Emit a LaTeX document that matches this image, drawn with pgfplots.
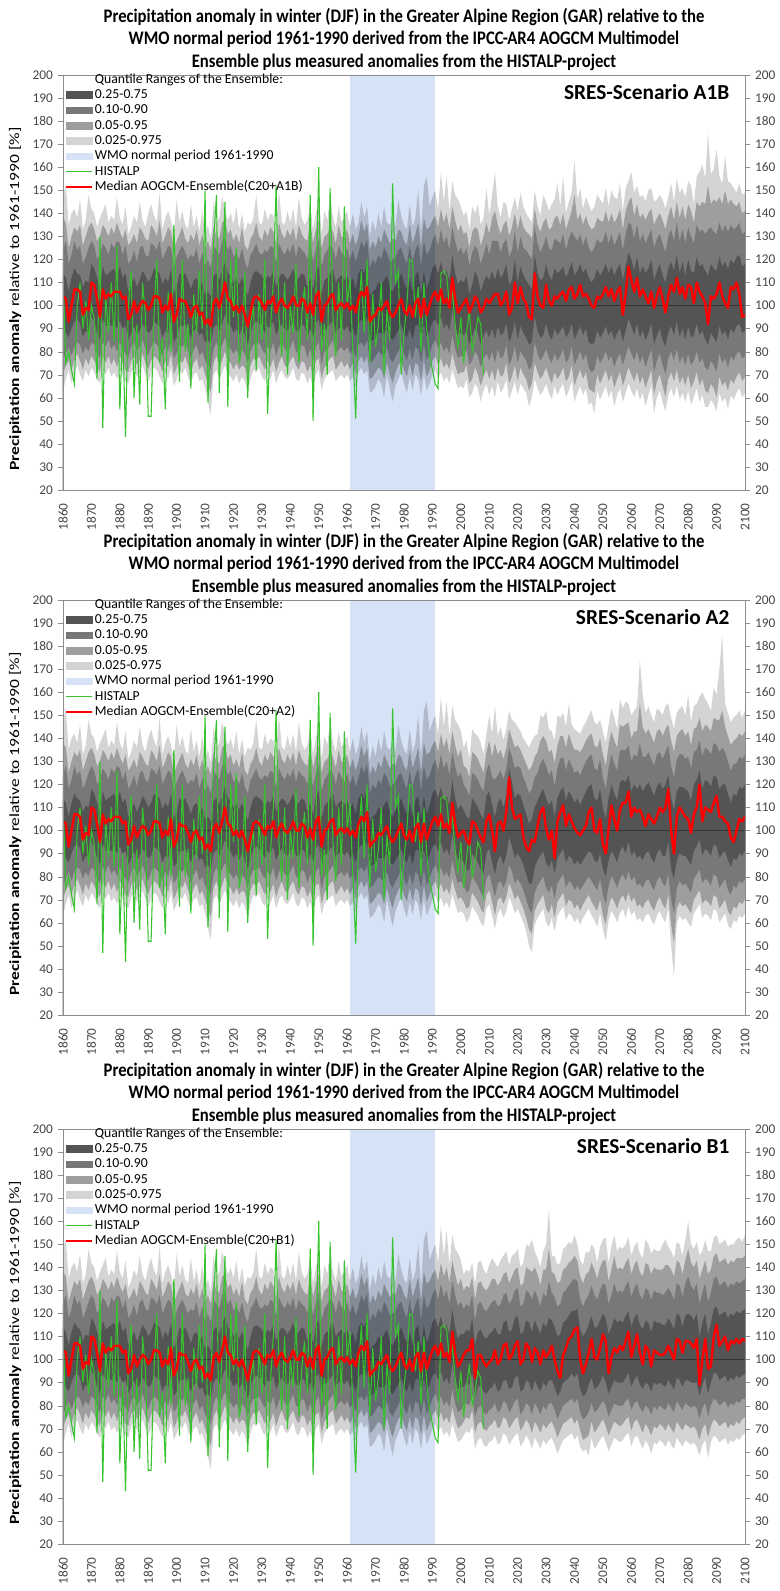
\documentclass[border=0pt]{standalone}
\usepackage{graphicx}
\usepackage{pgfplots}
\usepackage{pgfplotstable}
\pgfplotsset{compat=1.18}
\usepackage{fontspec}
\setmainfont{Carlito}
\definecolor{qA}{RGB}{84,84,84}
\definecolor{qB}{RGB}{120,120,120}
\definecolor{qC}{RGB}{158,158,158}
\definecolor{qD}{RGB}{212,212,212}
\definecolor{wmo}{RGB}{214,226,245}
\definecolor{hgreen}{RGB}{55,195,45}
\definecolor{axgray}{RGB}{140,140,140}
\definecolor{txt}{RGB}{70,70,70}

\pgfplotstableread{
y a b c d e f g h m
1860 63 70 76 90 114 124 138 148 104
1861 68 74 79 88 112 128 136 152 103
1862 72 76 82 86 106 118 125 135 93
1863 66 72 78 90 112 122 130 140 100
1864 70 76 82 93 116 128 134 142 107
1865 74 79 84 94 114 124 132 138 107
1866 70 76 83 92 113 126 135 146 106
1867 67 72 79 86 108 118 126 133 96
1868 72 77 82 89 111 121 130 137 99
1869 69 74 80 88 110 125 134 148 98
1870 73 78 84 95 118 128 136 142 110
1871 71 76 83 93 116 126 133 140 109
1872 68 73 79 88 112 120 128 134 103
1873 66 71 77 85 108 122 130 138 95
1874 72 78 84 94 117 127 135 141 107
1875 70 75 82 91 113 125 133 144 103
1876 73 78 85 92 114 122 130 136 105
1877 69 74 81 91 115 127 134 139 104
1878 71 77 83 92 116 125 131 137 106
1879 68 73 80 90 113 128 136 147 106
1880 72 78 84 93 117 127 132 138 106
1881 70 75 81 90 112 122 129 135 103
1882 67 72 79 91 114 126 133 143 104
1883 66 71 77 85 106 118 126 131 94
1884 71 76 82 88 109 120 128 134 96
1885 73 78 84 91 112 124 131 139 102
1886 69 74 80 87 108 119 127 136 97
1887 71 76 82 89 111 125 134 145 100
1888 74 79 85 92 115 126 132 137 102
1889 70 75 81 90 113 122 129 134 101
1890 67 72 78 88 110 121 128 140 98
1891 70 76 82 89 112 127 135 144 100
1892 73 78 84 93 116 126 133 139 104
1893 72 77 83 92 115 124 130 136 104
1894 69 75 81 91 114 128 137 149 103
1895 66 71 78 86 109 120 127 133 97
1896 71 76 82 89 112 123 130 138 100
1897 68 73 80 88 110 126 134 141 98
1898 73 79 85 93 116 125 132 137 105
1899 65 70 77 84 105 117 124 131 93
1900 68 73 79 86 108 121 128 146 96
1901 72 77 83 91 114 124 131 136 103
1902 70 75 82 91 113 126 134 141 102
1903 73 78 84 92 114 123 129 135 102
1904 69 74 80 89 111 120 127 133 99
1905 66 71 77 86 107 122 131 144 95
1906 70 75 81 89 111 121 128 134 99
1907 71 77 83 90 112 125 133 139 100
1908 67 72 78 87 108 118 126 132 96
1909 68 74 80 88 110 123 131 141 97
1910 64 70 76 84 105 117 125 131 92
1911 58 66 74 85 106 120 128 135 94
1912 52 62 72 83 104 116 124 129 91
1913 70 75 81 90 113 126 134 145 101
1914 72 78 84 92 114 124 130 136 103
1915 68 73 80 89 111 122 129 138 99
1916 71 76 83 92 115 128 136 147 104
1917 74 80 86 96 119 129 137 142 110
1918 70 76 82 92 114 124 131 137 103
1919 69 75 81 91 113 126 133 140 102
1920 67 72 79 88 110 121 128 135 98
1921 70 75 81 90 112 123 131 143 100
1922 66 72 78 87 109 120 127 133 97
1923 69 74 81 90 112 125 134 140 100
1924 67 73 79 87 108 119 126 132 96
1925 62 68 75 83 104 116 124 136 91
1926 68 74 80 88 110 122 129 135 97
1927 72 77 83 92 114 124 131 138 103
1928 71 76 83 93 115 127 136 148 104
1929 73 78 84 92 114 123 130 136 103
1930 69 75 81 91 113 122 128 135 101
1931 67 72 79 88 110 124 133 142 98
1932 71 76 82 91 113 123 130 137 102
1933 68 73 80 90 112 126 134 140 101
1934 72 77 84 93 115 125 132 139 104
1935 66 71 78 87 108 119 127 133 97
1936 70 75 82 90 112 127 136 150 101
1937 72 78 84 92 114 124 131 136 103
1938 69 74 81 90 113 122 129 135 100
1939 68 73 80 89 111 125 133 141 99
1940 70 76 82 91 113 123 130 136 101
1941 73 78 85 93 116 127 134 142 104
1942 68 74 80 89 111 121 128 134 100
1943 67 72 79 89 112 126 135 147 100
1944 71 76 83 92 114 124 131 138 103
1945 70 75 82 91 113 123 129 135 102
1946 66 71 77 86 108 120 128 137 97
1947 69 74 81 90 112 127 136 144 101
1948 64 69 76 86 107 119 127 133 96
1949 70 76 82 92 115 125 133 140 104
1950 72 77 84 94 117 129 137 146 106
1951 63 68 74 84 105 117 125 131 93
1952 68 73 80 89 111 122 130 141 100
1953 70 75 81 90 112 124 131 137 101
1954 71 77 83 92 114 126 134 148 104
1955 72 78 85 93 116 125 132 138 105
1956 67 72 79 88 110 120 127 134 98
1957 69 74 81 90 112 126 135 143 100
1958 70 76 82 91 113 123 130 136 101
1959 68 73 80 89 111 121 129 139 99
1960 70 75 82 91 113 125 133 141 101
1961 67 72 79 88 109 120 127 134 98
1962 69 75 81 90 112 124 131 140 100
1963 64 70 77 86 107 119 126 133 97
1964 71 76 83 92 114 123 130 136 103
1965 73 78 84 94 116 128 137 145 106
1966 70 75 82 92 114 125 132 138 104
1967 72 78 85 95 118 129 136 143 108
1968 62 68 75 84 104 116 124 130 93
1969 63 69 76 85 106 120 128 137 95
1970 65 71 78 86 107 118 125 132 96
1971 68 73 80 88 110 122 130 140 99
1972 66 72 79 88 109 120 127 134 98
1973 60 68 77 88 111 125 133 143 100
1974 70 75 82 90 113 123 130 136 102
1975 64 70 77 86 108 119 127 135 97
1976 58 66 75 85 106 120 129 138 95
1977 65 71 78 87 109 121 128 134 97
1978 68 74 80 89 111 124 133 146 100
1979 71 76 83 92 114 125 132 139 103
1980 66 72 79 88 110 121 128 135 98
1981 62 69 76 86 107 118 126 133 96
1982 69 75 81 90 112 126 135 144 100
1983 63 69 76 85 106 119 127 134 95
1984 70 75 82 91 113 124 131 138 101
1985 68 74 81 92 115 127 136 150 103
1986 61 67 75 85 105 117 125 132 95
1987 70 76 83 92 115 128 138 152 103
1988 63 69 76 86 107 122 133 156 96
1989 66 72 79 89 111 124 134 143 100
1990 70 76 83 93 116 128 137 147 104
1991 72 78 85 94 118 131 139 150 106
1992 68 74 81 91 114 126 134 142 102
1993 71 77 84 95 119 133 142 158 107
1994 67 73 80 90 113 127 136 145 101
1995 69 75 82 92 115 130 140 156 103
1996 66 72 79 89 111 124 133 141 99
1997 72 79 87 98 122 134 143 154 112
1998 68 74 81 91 114 128 137 148 103
1999 64 70 77 87 109 123 132 146 97
2000 65 71 78 88 111 125 135 143 99
}\hist

\pgfplotstableread{
y a b c d e f g h m
1999 64 70 77 87 109 123 132 146 97
2000 65 71 78 88 111 125 135 143 99
2001 64 71 78 87 110 122 131 139 101
2002 68 74 81 89 113 125 132 141 103
2003 60 66 74 83 105 117 125 133 97
2004 62 68 76 86 109 123 132 143 100
2005 66 73 80 90 115 126 134 140 104
2006 64 70 78 88 112 124 133 144 102
2007 58 65 73 83 106 118 126 135 97
2008 63 69 77 87 110 122 130 138 99
2009 66 72 79 89 113 127 136 151 103
2010 61 68 76 86 111 122 131 139 101
2011 65 72 80 90 115 128 138 148 103
2012 60 67 75 85 111 128 141 158 105
2013 67 73 81 91 116 128 135 143 105
2014 62 69 77 87 112 123 131 138 100
2015 64 70 78 88 114 127 135 145 102
2016 68 75 83 92 118 129 137 144 106
2017 59 66 74 84 109 121 130 137 96
2018 63 69 77 87 111 124 134 142 99
2019 67 74 82 93 120 132 140 147 110
2020 61 67 75 85 110 123 133 141 101
2021 66 73 80 91 117 130 139 149 108
2022 64 70 78 88 113 125 134 143 103
2023 62 68 76 86 111 124 132 140 101
2024 56 63 72 83 109 122 131 138 95
2025 60 66 74 84 107 120 129 136 94
2026 68 75 84 95 122 134 142 150 114
2027 64 71 79 89 114 127 135 143 104
2028 61 68 76 86 111 123 132 139 100
2029 63 70 78 87 112 126 136 148 99
2030 66 73 81 92 118 130 138 145 109
2031 62 69 77 87 113 125 133 141 102
2032 59 66 75 85 111 124 134 144 100
2033 65 71 79 90 116 129 138 146 104
2034 61 68 76 87 114 128 139 153 103
2035 64 70 78 89 115 127 135 143 105
2036 66 73 81 91 117 131 140 156 106
2037 60 67 75 86 112 124 133 140 102
2038 63 69 77 88 115 129 137 145 107
2039 67 74 82 92 119 132 141 149 108
2040 58 65 74 85 113 130 148 163 103
2041 62 69 77 88 115 128 137 146 105
2042 65 72 80 91 118 131 140 151 109
2043 61 68 76 87 114 126 135 142 104
2044 64 71 79 90 116 130 139 147 105
2045 57 64 73 84 112 125 135 144 103
2046 58 63 71 83 110 123 133 141 100
2047 53 62 72 84 112 125 134 143 99
2048 63 70 78 89 116 129 138 148 104
2049 59 66 75 86 113 127 137 146 103
2050 62 69 77 88 115 128 136 144 105
2051 65 72 80 91 118 132 141 151 108
2052 60 67 76 87 114 127 136 143 104
2053 63 70 78 89 117 131 140 150 107
2054 56 64 73 85 113 126 136 147 102
2055 61 68 77 88 116 129 138 146 106
2056 64 71 79 90 118 132 142 153 108
2057 58 65 74 84 111 124 133 141 96
2058 62 69 78 89 117 131 141 151 105
2059 66 73 82 94 123 136 145 154 117
2060 63 70 79 91 120 135 147 158 111
2061 60 67 76 87 115 129 139 149 106
2062 64 71 80 92 121 135 144 152 112
2063 59 66 75 86 114 128 138 147 104
2064 62 69 78 89 117 131 140 148 107
2065 56 64 73 85 114 127 137 145 104
2066 61 68 77 88 116 130 140 150 101
2067 65 72 81 92 120 133 142 151 106
2068 53 61 71 83 111 125 135 145 99
2069 60 67 76 87 115 129 138 146 104
2070 63 70 79 90 118 131 140 148 108
2071 58 65 74 85 113 127 137 146 103
2072 54 60 70 82 110 123 133 142 97
2073 61 68 77 88 116 130 139 147 104
2074 64 71 80 91 119 133 143 153 109
2075 60 67 76 87 115 128 137 145 106
2076 65 72 81 93 122 136 145 155 112
2077 59 66 75 86 114 128 138 149 105
2078 62 69 78 90 119 133 143 151 108
2079 58 65 74 85 113 127 137 147 103
2080 63 70 79 91 120 134 144 154 109
2081 57 64 74 86 115 130 141 152 108
2082 60 67 76 87 114 127 136 144 101
2083 64 71 80 92 121 135 145 156 110
2084 58 65 75 87 117 132 143 158 106
2085 61 68 77 89 118 133 145 161 104
2086 56 63 73 85 115 131 144 155 101
2087 56 62 72 83 113 133 152 175 92
2088 59 66 76 88 118 134 144 157 104
2089 57 64 74 86 116 132 146 159 103
2090 54 60 71 84 115 131 145 168 105
2091 62 69 79 91 121 136 147 156 110
2092 58 65 75 87 117 132 144 153 104
2093 60 67 77 89 119 135 150 165 101
2094 55 63 73 85 116 132 144 154 99
2095 61 68 78 90 120 135 146 153 108
2096 59 66 76 88 118 133 144 151 107
2097 62 69 79 91 121 134 143 149 110
2098 64 71 80 92 122 136 145 153 105
2099 60 67 77 88 117 131 140 148 95
2100 62 69 78 89 118 132 141 149 96
}\scenA

\pgfplotstableread{
y a b c d e f g h m
1999 64 70 77 87 109 123 132 146 97
2000 65 71 78 88 111 125 135 143 99
2001 64 69 76 86 109 120 128 136 100
2002 60 66 73 83 106 118 127 139 96
2003 62 67 74 83 105 115 123 131 94
2004 67 73 80 90 114 125 134 144 104
2005 65 71 78 88 112 124 133 142 103
2006 63 69 76 86 110 122 131 141 100
2007 60 66 73 83 107 119 128 138 97
2008 58 64 71 81 105 117 125 133 95
2009 66 72 79 90 115 126 134 142 104
2010 68 74 81 92 117 129 139 150 107
2011 63 69 76 86 111 123 132 142 100
2012 57 63 71 81 106 122 138 154 91
2013 64 70 77 87 112 124 133 141 103
2014 66 71 78 89 114 126 135 145 104
2015 62 68 75 85 110 122 131 139 100
2016 65 71 78 89 115 127 136 144 108
2017 71 77 85 97 127 136 144 152 123
2018 68 74 82 93 121 132 140 148 110
2019 64 70 77 88 114 127 136 147 105
2020 66 72 79 90 116 128 137 145 106
2021 63 69 77 88 115 127 135 143 107
2022 60 66 74 85 111 123 132 140 97
2023 56 62 70 81 107 120 129 138 93
2024 50 57 66 77 103 116 126 136 91
2025 47 55 64 77 105 118 128 139 96
2026 59 65 73 84 110 123 132 141 95
2027 62 68 76 87 113 125 134 142 102
2028 64 70 78 89 116 129 139 150 108
2029 66 72 80 91 118 131 141 149 110
2030 60 66 75 86 114 128 139 152 101
2031 58 64 73 84 111 124 134 144 96
2032 62 68 76 87 113 126 135 143 100
2033 56 62 70 81 106 119 129 139 88
2034 63 69 77 88 114 127 137 150 104
2035 65 71 79 90 117 131 141 149 108
2036 67 73 81 92 119 132 141 151 111
2037 61 67 75 86 113 126 136 145 102
2038 64 70 78 89 117 131 142 155 107
2039 63 69 77 88 115 128 138 146 104
2040 60 66 74 85 112 125 135 144 101
2041 62 68 76 87 114 126 135 143 99
2042 59 65 74 85 111 124 134 142 98
2043 62 68 76 87 114 127 136 145 100
2044 64 70 78 89 117 130 139 147 102
2045 66 72 80 91 119 132 141 150 108
2046 63 69 78 90 120 133 142 152 110
2047 61 67 76 87 114 127 137 147 100
2048 58 65 74 86 113 126 136 146 99
2049 64 70 79 90 118 131 140 148 105
2050 57 63 72 83 110 123 133 143 94
2051 52 59 68 80 105 118 128 138 90
2052 61 67 76 87 114 127 137 146 101
2053 65 71 80 91 120 133 143 153 111
2054 63 69 78 89 116 129 139 149 105
2055 60 66 75 86 113 126 136 144 100
2056 64 70 79 91 121 135 146 157 109
2057 66 72 81 93 122 135 145 153 112
2058 62 69 78 90 121 135 146 156 112
2059 67 73 82 95 124 137 147 155 117
2060 63 69 78 89 117 130 140 150 106
2061 65 71 80 91 120 133 143 152 110
2062 61 67 76 88 118 132 143 154 108
2063 62 68 77 89 120 138 155 174 109
2064 60 66 75 87 117 132 145 159 106
2065 63 69 78 90 119 132 142 151 102
2066 64 70 79 91 121 134 144 154 107
2067 61 67 76 88 118 131 141 150 105
2068 59 65 74 86 115 128 138 147 103
2069 63 69 78 90 119 133 143 153 106
2070 65 71 80 92 121 134 144 152 110
2071 62 68 77 89 118 131 141 150 108
2072 60 66 76 89 120 134 144 154 110
2073 66 72 81 95 124 137 146 155 118
2074 50 59 70 83 114 128 139 149 100
2075 36 51 64 79 109 123 134 144 90
2076 60 66 75 87 117 131 141 151 106
2077 63 69 78 90 119 133 143 153 110
2078 61 67 76 89 119 133 144 154 108
2079 62 68 77 89 118 131 141 150 106
2080 60 66 75 87 117 132 143 159 105
2081 58 64 73 85 113 127 137 147 99
2082 64 70 79 91 120 134 144 154 107
2083 66 72 81 93 122 135 145 155 110
2084 68 74 83 96 126 139 149 158 120
2085 62 68 77 89 118 132 143 160 104
2086 64 70 79 92 122 136 146 157 110
2087 63 69 78 91 121 135 145 155 109
2088 61 67 76 89 119 133 143 152 108
2089 66 72 81 94 124 138 149 162 112
2090 65 71 80 93 123 137 148 159 115
2091 60 66 75 88 118 134 148 170 106
2092 62 68 77 90 120 136 152 185 106
2093 64 70 79 91 120 134 145 155 104
2094 59 65 74 87 116 130 141 151 103
2095 57 63 72 84 112 126 137 147 97
2096 61 67 76 88 116 129 139 149 95
2097 60 66 75 87 115 129 140 150 100
2098 63 69 78 90 119 132 142 152 105
2099 62 68 77 89 118 131 141 149 104
2100 64 70 79 91 120 133 143 152 106
}\scenB

\pgfplotstableread{
y a b c d e f g h m
1999 64 70 77 87 109 123 132 146 97
2000 65 71 78 88 111 125 135 143 99
2001 67 73 80 88 111 122 130 137 102
2002 69 75 81 90 113 124 132 139 104
2003 68 74 80 89 112 123 131 138 104
2004 71 78 85 94 118 128 136 142 109
2005 61 68 75 84 106 117 126 133 92
2006 65 72 79 88 112 124 133 142 102
2007 66 73 80 89 113 125 134 143 102
2008 63 70 77 86 110 122 131 139 99
2009 62 69 76 85 109 121 130 137 97
2010 64 71 78 87 111 123 132 141 99
2011 65 72 79 88 112 125 135 144 100
2012 67 74 81 90 114 126 135 142 104
2013 63 70 77 86 111 123 132 140 98
2014 64 71 78 87 111 124 134 143 100
2015 68 75 82 91 116 128 137 145 106
2016 67 74 81 91 117 129 138 147 107
2017 63 70 77 87 112 124 133 141 100
2018 65 72 79 88 113 126 136 145 102
2019 67 74 82 92 118 130 139 146 106
2020 68 75 83 93 119 131 140 148 108
2021 62 69 76 86 111 123 132 140 98
2022 64 71 78 87 112 124 133 142 100
2023 67 74 81 91 117 130 140 150 107
2024 65 72 80 90 116 129 139 149 105
2025 61 68 76 86 112 126 138 152 99
2026 66 73 81 91 117 130 140 147 105
2027 64 71 79 88 114 127 137 144 103
2028 61 68 76 86 111 123 132 140 98
2029 65 72 80 90 116 129 139 147 104
2030 63 70 78 88 114 127 139 150 101
2031 65 72 81 91 118 134 148 165 103
2032 66 73 81 91 117 129 138 145 106
2033 63 70 78 88 114 127 137 145 100
2034 59 66 74 84 110 123 133 141 95
2035 62 69 77 86 111 124 134 142 92
2036 65 72 80 90 116 129 139 148 102
2037 66 73 81 91 117 130 140 149 105
2038 67 74 82 92 119 132 142 151 109
2039 68 75 83 94 121 134 143 150 110
2040 65 72 81 92 121 135 145 154 113
2041 67 74 83 94 122 134 143 150 114
2042 62 69 77 87 113 126 136 143 100
2043 60 65 74 84 110 123 133 141 94
2044 61 66 75 85 112 126 137 147 98
2045 58 67 77 89 115 128 138 146 103
2046 66 73 81 92 119 132 142 150 109
2047 61 68 77 87 114 128 139 148 101
2048 63 70 78 88 114 126 135 142 100
2049 65 72 80 90 117 130 140 149 105
2050 67 74 82 93 120 133 143 152 111
2051 64 71 80 90 118 132 143 153 108
2052 60 67 75 85 111 124 134 142 94
2053 63 70 78 88 114 128 139 149 101
2054 66 73 81 91 118 133 145 154 105
2055 65 72 80 90 116 129 139 147 103
2056 64 71 80 90 117 130 140 149 106
2057 65 72 80 90 116 129 139 148 104
2058 67 74 82 92 119 132 142 150 108
2059 68 75 83 94 121 134 144 153 112
2060 62 69 78 88 114 127 137 145 101
2061 66 73 81 91 118 131 141 149 106
2062 67 74 82 93 120 133 143 151 111
2063 64 71 79 89 115 128 138 146 103
2064 61 68 77 87 113 126 136 144 98
2065 65 72 80 90 117 131 142 152 106
2066 63 70 79 89 116 130 141 150 104
2067 59 67 76 86 112 126 137 146 97
2068 64 71 80 90 117 130 140 148 104
2069 63 70 78 89 116 129 139 147 103
2070 65 72 80 90 116 129 139 147 102
2071 64 71 79 89 115 128 139 150 102
2072 62 69 78 88 115 129 141 152 103
2073 65 72 81 91 118 131 141 149 106
2074 63 70 79 89 116 129 139 147 103
2075 61 68 77 87 113 126 136 144 100
2076 66 73 82 92 120 133 143 151 109
2077 64 71 80 91 119 132 142 150 108
2078 62 69 78 88 114 127 137 145 103
2079 65 72 81 91 119 133 143 152 108
2080 64 71 80 91 120 136 148 160 108
2081 63 70 79 90 119 132 142 150 107
2082 64 71 80 90 117 130 140 148 105
2083 62 69 79 90 120 133 143 151 109
2084 58 65 74 84 110 124 135 145 89
2085 63 70 79 89 116 129 139 147 100
2086 65 72 81 92 120 133 143 152 109
2087 57 66 75 85 111 125 137 147 96
2088 64 71 80 90 116 129 139 147 97
2089 67 74 83 94 122 135 145 153 110
2090 66 73 82 94 123 136 146 154 115
2091 64 71 80 91 119 132 142 150 106
2092 65 72 81 92 120 133 143 151 108
2093 66 73 82 93 121 134 144 152 110
2094 63 70 79 90 118 131 141 149 104
2095 65 72 81 92 120 133 143 150 108
2096 64 71 80 91 119 132 142 150 107
2097 66 73 82 93 121 134 144 152 109
2098 65 72 81 92 120 133 144 153 107
2099 67 74 83 93 121 134 144 151 109
2100 68 75 83 94 122 135 145 154 108
}\scenC

\pgfplotstableread{
y v
1860 113
1861 75
1862 80
1863 72
1864 66
1865 100
1866 110
1867 90
1868 102
1869 85
1870 100
1871 94
1872 68
1873 130
1874 47
1875 105
1876 88
1877 110
1878 84
1879 126
1880 55
1881 90
1882 43
1883 100
1884 115
1885 60
1886 92
1887 57
1888 110
1889 96
1890 52
1891 52
1892 95
1893 120
1894 75
1895 86
1896 55
1897 106
1898 80
1899 135
1900 100
1901 67
1902 120
1903 80
1904 92
1905 64
1906 105
1907 88
1908 115
1909 90
1910 150
1911 58
1912 88
1913 128
1914 148
1915 62
1916 110
1917 145
1918 56
1919 120
1920 95
1921 125
1922 75
1923 82
1924 115
1925 60
1926 92
1927 100
1928 72
1929 105
1930 85
1931 120
1932 53
1933 90
1934 110
1935 152
1936 95
1937 78
1938 110
1939 70
1940 100
1941 88
1942 118
1943 75
1944 96
1945 108
1946 85
1947 148
1948 50
1949 105
1950 160
1951 80
1952 92
1953 70
1954 151
1955 95
1956 78
1957 110
1958 85
1959 143
1960 100
1961 112
1962 80
1963 51
1964 95
1965 115
1966 88
1967 120
1968 75
1969 105
1970 82
1971 92
1972 110
1973 70
1974 98
1975 85
1976 153
1977 110
1978 115
1979 70
1980 88
1981 100
1982 120
1983 119
1984 95
1985 108
1986 80
1987 110
1988 90
1989 78
1990 72
1991 66
1992 64
1993 114
1994 115
1995 113
1996 100
1997 106
1998 92
1999 82
2000 95
2001 75
2002 88
2003 98
2004 80
2005 86
2006 95
2007 92
2008 70
}\histalp

\pgfplotsset{
  common/.style={
    scale only axis, width=511.5pt, height=311.25pt, anchor=north west,
    xmin=1860, xmax=2100, ymin=20, ymax=200,
    axis line style={axgray}, axis on top,
    xtick distance=10, ytick distance=10,
    xtick style={draw=none},
    ytick pos=left, tick align=outside, major tick length=4pt,
    ytick style={axgray},
    /pgf/number format/assume math mode=true,
    /pgf/number format/1000 sep={},
    yticklabel style={font=\fontsize{10}{11}\selectfont, text=txt},
    xticklabel style={font=\fontsize{10}{11}\selectfont, text=txt, rotate=90, anchor=east, xshift=-2.5pt},
    ylabel={\scalebox{1.25}[1]{\textbf{Precipitation anomaly} relative to 1961-1990 [\%]}},
    ylabel style={font=\fontsize{10.5}{11}\selectfont, text=black, at={(axis description cs:-0.07,0.46)}, anchor=center},
    title={\scalebox{1}[1.15]{Precipitation anomaly in winter (DJF) in the Greater Alpine Region (GAR) relative to the}\\\scalebox{1}[1.15]{WMO normal period 1961-1990 derived from the IPCC-AR4 AOGCM Multimodel}\\\scalebox{1}[1.15]{Ensemble plus measured anomalies from the HISTALP-project}},
    title style={font=\bfseries\fontsize{12.5}{17}\selectfont, align=center, at={(0.5,1)}, anchor=south, inner sep=0pt},
    legend style={draw=none, fill=none, at={(-0.003,1.0145)}, anchor=north west,
      font=\fontsize{10.3}{11}\selectfont, text=black, row sep=0pt,
      nodes={inner sep=1pt, text height=7.4pt, text depth=2.1pt}},
    legend cell align=left,
  },
  rightax/.style={
    scale only axis, width=511.5pt, height=311.25pt, anchor=north west,
    xmin=1860, xmax=2100, ymin=20, ymax=200,
    axis x line=none, axis y line*=right, axis line style={axgray},
    ytick distance=10, tick align=outside, major tick length=4pt,
    ytick style={axgray},
    /pgf/number format/assume math mode=true,
    yticklabel style={font=\fontsize{10}{11}\selectfont, text=txt},
  },
}

\newcommand{\bands}[1]{%
  \addplot[fill=qD,draw=none,forget plot] table[x=y,y=h]{\hist} \closedcycle;
  \addplot[fill=qD,draw=none,forget plot] table[x=y,y=h]{#1} \closedcycle;
  \addplot[fill=qC,draw=none,forget plot] table[x=y,y=g]{\hist} \closedcycle;
  \addplot[fill=qC,draw=none,forget plot] table[x=y,y=g]{#1} \closedcycle;
  \addplot[fill=qB,draw=none,forget plot] table[x=y,y=f]{\hist} \closedcycle;
  \addplot[fill=qB,draw=none,forget plot] table[x=y,y=f]{#1} \closedcycle;
  \addplot[fill=qA,draw=none,forget plot] table[x=y,y=e]{\hist} \closedcycle;
  \addplot[fill=qA,draw=none,forget plot] table[x=y,y=e]{#1} \closedcycle;
  \addplot[fill=qB,draw=none,forget plot] table[x=y,y=d]{\hist} \closedcycle;
  \addplot[fill=qB,draw=none,forget plot] table[x=y,y=d]{#1} \closedcycle;
  \addplot[fill=qC,draw=none,forget plot] table[x=y,y=c]{\hist} \closedcycle;
  \addplot[fill=qC,draw=none,forget plot] table[x=y,y=c]{#1} \closedcycle;
  \addplot[fill=qD,draw=none,forget plot] table[x=y,y=b]{\hist} \closedcycle;
  \addplot[fill=qD,draw=none,forget plot] table[x=y,y=b]{#1} \closedcycle;
  \addplot[fill=white,draw=none,forget plot] table[x=y,y=a]{\hist} \closedcycle;
  \addplot[fill=white,draw=none,forget plot] table[x=y,y=a]{#1} \closedcycle;
}

\newcommand{\patch}[1]{\addlegendimage{legend image code/.code={\fill[#1] (0pt,-2.6pt) rectangle (19.5pt,2.6pt);}}}

\newcommand{\panel}[5]{%
\begin{axis}[common, at={(0pt,#1)}, title style={yshift=#5}]
  \addlegendimage{legend image code/.code={\path[draw=none,fill=none] (0pt,0pt) rectangle (19.5pt,0.1pt);}}\addlegendentry{Quantile Ranges of the Ensemble:}
  \patch{qA}\addlegendentry{0.25-0.75}
  \patch{qB}\addlegendentry{0.10-0.90}
  \patch{qC}\addlegendentry{0.05-0.95}
  \patch{qD}\addlegendentry{0.025-0.975}
  \patch{wmo}\addlegendentry{WMO normal period 1961-1990}
  \addlegendimage{legend image code/.code={\draw[hgreen,line width=0.8pt] (0pt,0pt) -- (19.5pt,0pt);}}\addlegendentry{HISTALP}
  \addlegendimage{legend image code/.code={\draw[red,line width=1.8pt] (0pt,0pt) -- (19.5pt,0pt);}}\addlegendentry{Median AOGCM-Ensemble(C20+#4)}
  \bands{#2}
  \addplot[fill=wmo, draw=none, blend mode=multiply, forget plot] coordinates {(1961,20) (1961,200) (1991,200) (1991,20)} -- cycle;
  \addplot[black!80, line width=0.4pt, forget plot] coordinates {(1860,100) (2100,100)};
  \addplot[hgreen, line width=0.8pt, forget plot] table[x=y,y=v]{\histalp};
  \addplot[red, line width=1.8pt, line join=round, forget plot] table[x=y,y=m]{\hist};
  \addplot[red, line width=1.8pt, line join=round, forget plot] table[x=y,y=m]{#2};
  \node[anchor=east, font=\bfseries\fontsize{16}{17}\selectfont, text=black] at (rel axis cs:0.984,0.958) {#3};
\end{axis}
\begin{axis}[rightax, at={(0pt,#1)}]
  \addplot[draw=none] coordinates {(2000,100)};
\end{axis}
}

\begin{document}
\begin{tikzpicture}
\path[use as bounding box] (-47.25pt,56.25pt) rectangle (537pt,-1137pt);
\panel{0pt}{\scenA}{SRES-Scenario A1B}{A1B}{-3pt}
\panel{-393.75pt}{\scenB}{SRES-Scenario A2}{A2}{-3pt}
\panel{-790.5pt}{\scenC}{SRES-Scenario B1}{B1}{-3pt}
\end{tikzpicture}
\end{document}
